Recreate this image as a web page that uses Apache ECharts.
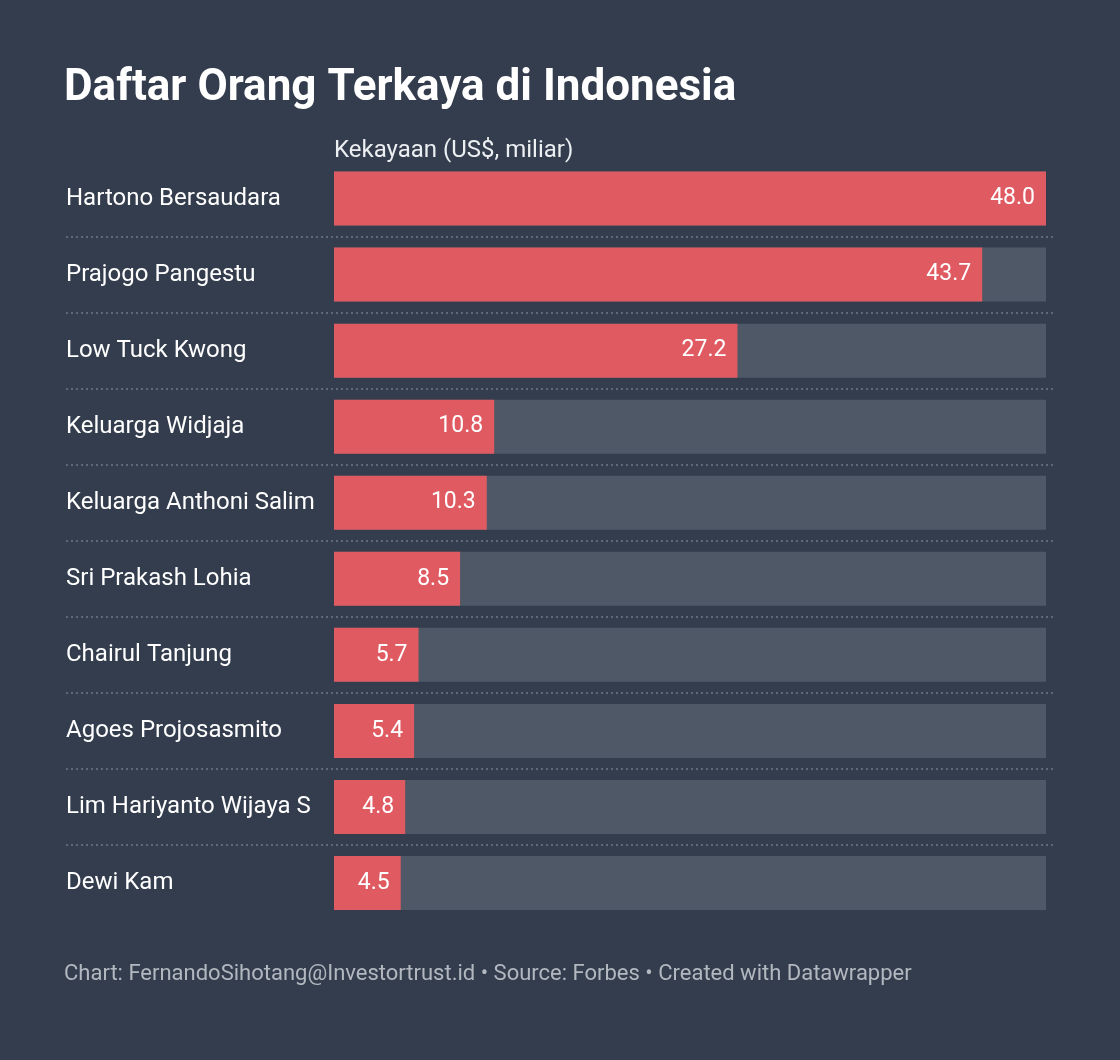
<!DOCTYPE html>
<html>
<head>
<meta charset="utf-8">
<script src="https://cdn.jsdelivr.net/npm/echarts@6/dist/echarts.min.js"></script>
<style>
html,body{margin:0;padding:0;background:#333d4d;}
#chart{width:1120px;height:1060px;}
</style>
</head>
<body>
<div id="chart"></div>
<script>
const names = ["Hartono Bersaudara","Prajogo Pangestu","Low Tuck Kwong","Keluarga Widjaja","Keluarga Anthoni Salim","Sri Prakash Lohia","Chairul Tanjung","Agoes Projosasmito","Lim Hariyanto Wijaya S","Dewi Kam"];
const wealth = [48.0,43.7,27.2,10.8,10.3,8.5,5.7,5.4,4.8,4.5];
const maxWealth = 48.0;

const chart = echarts.init(document.getElementById('chart'), null, {renderer:'canvas'});
const font = 'Roboto, "Noto Sans", sans-serif';
chart.setOption({
  backgroundColor:'#333d4d',
  animation:false,
  title:[
    {text:'Daftar Orang Terkaya di Indonesia', left:59, top:62,
     textStyle:{color:'#ffffff', fontSize:44, fontWeight:'bold', fontFamily:font}},
    {text:'Kekayaan (US$, miliar)', left:329, top:134,
     textStyle:{color:'#eceff2', fontSize:24, fontWeight:'normal', fontFamily:font}},
    {text:'Chart: FernandoSihotang@Investortrust.id • Source: Forbes • Created with Datawrapper', left:59, top:958.5,
     textStyle:{color:'#b3b8c0', fontSize:22, fontWeight:'normal', fontFamily:font}}
  ],
  grid:[
    {left:334, right:74, top:160.5, bottom:139},
    {left:66, right:66, top:160.5, bottom:139}
  ],
  xAxis:[
    {gridIndex:0, type:'value', min:0, max:maxWealth, show:false},
    {gridIndex:1, type:'value', min:0, max:1, show:false}
  ],
  yAxis:[
    {gridIndex:0, type:'category', data:names, inverse:true,
     axisLine:{show:false}, axisTick:{show:false}, splitLine:{show:false},
     axisLabel:{color:'#ffffff', fontSize:24, fontFamily:font, align:'left', margin:268}},
    {gridIndex:1, type:'category', data:names, inverse:true,
     axisLine:{show:false}, axisTick:{show:false}, axisLabel:{show:false},
     splitLine:{show:true, showMinLine:false, showMaxLine:false,
       lineStyle:{color:'#6f7886', type:[2,3], width:1.5}}}
  ],
  series:[
    {type:'bar', xAxisIndex:0, yAxisIndex:0, data:wealth, barWidth:54,
     itemStyle:{color:'#e05a62'},
     showBackground:true, backgroundStyle:{color:'#4e5866'},
     label:{show:true, position:'insideRight', distance:11, color:'#ffffff', fontSize:23, fontFamily:font,
       formatter:p=>p.value.toFixed(1)}},
    {type:'bar', xAxisIndex:1, yAxisIndex:1, data:[], silent:true}
  ]
});
</script>
</body>
</html>
